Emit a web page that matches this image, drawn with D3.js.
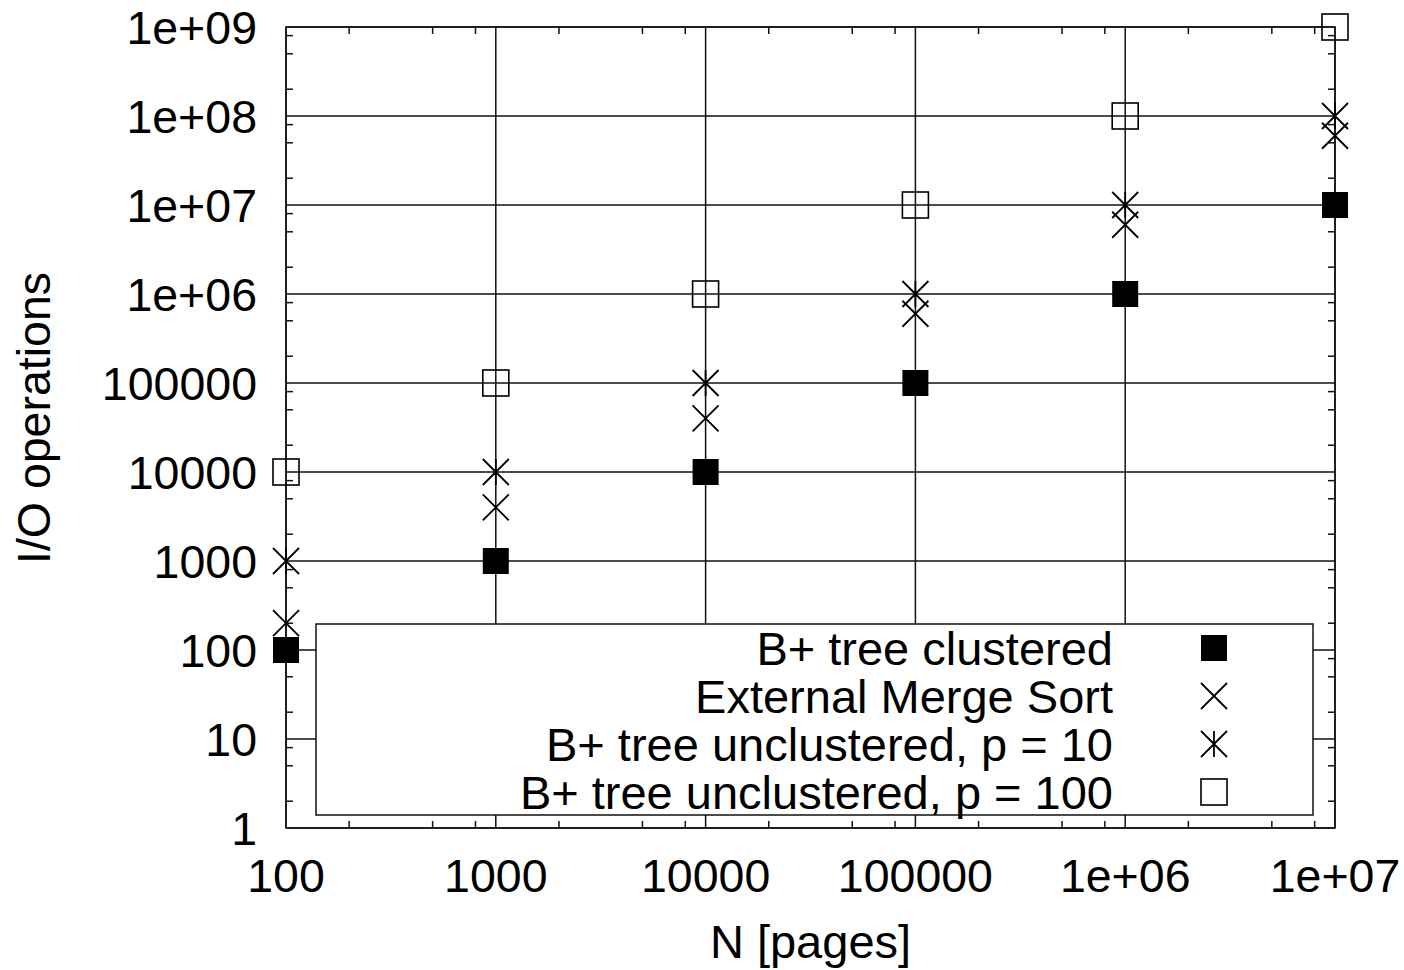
<!DOCTYPE html>
<html>
<head>
<meta charset="utf-8">
<script src="https://cdn.jsdelivr.net/npm/d3@7"></script>
<style>
  body { margin: 0; background: #fff; }
  text { font-family: "Liberation Sans", Arial, sans-serif; fill: #000; }
</style>
</head>
<body>
<div id="chart"></div>
<script>
// data
const pages = [100, 1000, 10000, 100000, 1e6, 1e7];
const clustered = [100, 1000, 1e4, 1e5, 1e6, 1e7];
const mergeSort = [200, 4000, 40000, 600000, 6e6, 6e7];
const unclustered10 = [1000, 1e4, 1e5, 1e6, 1e7, 1e8];
const unclustered100 = [1e4, 1e5, 1e6, 1e7, 1e8, 1e9];

const xTicks = [100, 1000, 10000, 100000, 1e6, 1e7];
const xTickLabels = ["100", "1000", "10000", "100000", "1e+06", "1e+07"];
const yTicks = [1, 10, 100, 1000, 1e4, 1e5, 1e6, 1e7, 1e8, 1e9];
const yTickLabels = ["1", "10", "100", "1000", "10000", "100000", "1e+06", "1e+07", "1e+08", "1e+09"];
const minorSteps = [2, 5, 8];

const seriesNames = ["B+ tree clustered", "External Merge Sort", "B+ tree unclustered, p = 10", "B+ tree unclustered, p = 100"];
const seriesMarks = ["filledSquare", "cross", "star", "openSquare"];
const seriesValues = [clustered, mergeSort, unclustered10, unclustered100];

function main() {
  var W = 1404, H = 970;
  var pLeft = 286, pRight = 1335, pTop = 27, pBottom = 828;
  var fs = 46.5;

  var svg = d3.select("#chart").append("svg")
    .attr("width", W).attr("height", H);
  svg.append("rect").attr("width", W).attr("height", H).attr("fill", "#fff");

  var x = d3.scaleLog().domain([100, 1e7]).range([pLeft, pRight]);
  var y = d3.scaleLog().domain([1, 1e9]).range([pBottom, pTop]);

  // minor tick positions
  var xMinor = [], yMinor = [];
  xTicks.slice(0, -1).forEach(function(t) { minorSteps.forEach(function(m) { xMinor.push(t * m); }); });
  yTicks.slice(0, -1).forEach(function(t) { minorSteps.forEach(function(m) { yMinor.push(t * m); }); });

  var ink = "#111";

  // grid lines
  var grid = svg.append("g").attr("stroke", ink).attr("stroke-width", 1.5);
  grid.selectAll(".gx").data(xTicks).enter().append("line")
    .attr("x1", function(d) { return x(d); }).attr("x2", function(d) { return x(d); })
    .attr("y1", pTop).attr("y2", pBottom);
  grid.selectAll(".gy").data(yTicks).enter().append("line")
    .attr("x1", pLeft).attr("x2", pRight)
    .attr("y1", function(d) { return y(d); }).attr("y2", function(d) { return y(d); });

  // minor ticks on all four sides (inward)
  var tl = 7;
  var ticks = svg.append("g").attr("stroke", ink).attr("stroke-width", 1.5);
  xMinor.forEach(function(v) {
    ticks.append("line").attr("x1", x(v)).attr("x2", x(v)).attr("y1", pBottom).attr("y2", pBottom - tl);
    ticks.append("line").attr("x1", x(v)).attr("x2", x(v)).attr("y1", pTop).attr("y2", pTop + tl);
  });
  yMinor.forEach(function(v) {
    ticks.append("line").attr("y1", y(v)).attr("y2", y(v)).attr("x1", pLeft).attr("x2", pLeft + tl);
    ticks.append("line").attr("y1", y(v)).attr("y2", y(v)).attr("x1", pRight).attr("x2", pRight - tl);
  });

  // frame
  svg.append("rect")
    .attr("x", pLeft).attr("y", pTop)
    .attr("width", pRight - pLeft).attr("height", pBottom - pTop)
    .attr("fill", "none").attr("stroke", ink).attr("stroke-width", 1.5);

  // tick labels
  svg.append("g").selectAll("text").data(xTicks).enter().append("text")
    .attr("x", function(d) { return x(d); })
    .attr("y", 892)
    .attr("text-anchor", "middle")
    .attr("font-size", fs)
    .text(function(d, i) { return xTickLabels[i]; });
  svg.append("g").selectAll("text").data(yTicks).enter().append("text")
    .attr("x", pLeft - 29)
    .attr("y", function(d) { return y(d) + 16.5; })
    .attr("text-anchor", "end")
    .attr("font-size", fs)
    .text(function(d, i) { return yTickLabels[i]; });

  // axis titles
  svg.append("text")
    .attr("x", (pLeft + pRight) / 2).attr("y", 958)
    .attr("text-anchor", "middle").attr("font-size", 47)
    .text("N [pages]");
  svg.append("text")
    .attr("transform", "translate(50,418) rotate(-90)")
    .attr("text-anchor", "middle").attr("font-size", 46.5)
    .text("I/O operations");

  // markers
  var ms = 13;
  function drawMark(g, kind, cx, cy) {
    if (kind === "filledSquare") {
      g.append("rect").attr("x", cx - ms).attr("y", cy - ms).attr("width", 2 * ms).attr("height", 2 * ms)
        .attr("fill", "#000");
    } else if (kind === "openSquare") {
      g.append("rect").attr("x", cx - ms).attr("y", cy - ms).attr("width", 2 * ms).attr("height", 2 * ms)
        .attr("fill", "none").attr("stroke", "#000").attr("stroke-width", 1.6);
    } else {
      var p = "M" + (cx - ms) + "," + (cy - ms) + "L" + (cx + ms) + "," + (cy + ms) +
              "M" + (cx - ms) + "," + (cy + ms) + "L" + (cx + ms) + "," + (cy - ms);
      if (kind === "star") p += "M" + cx + "," + (cy - ms) + "L" + cx + "," + (cy + ms);
      g.append("path").attr("d", p).attr("fill", "none").attr("stroke", "#000").attr("stroke-width", 1.8);
    }
  }

  // legend box
  var lg = { x0: 316, y0: 624, x1: 1313, y1: 815 };
  svg.append("rect")
    .attr("x", lg.x0).attr("y", lg.y0)
    .attr("width", lg.x1 - lg.x0).attr("height", lg.y1 - lg.y0)
    .attr("fill", "#fff").attr("stroke", ink).attr("stroke-width", 1.5);
  var legend = svg.append("g");
  seriesNames.forEach(function(name, i) {
    var cy = 648 + i * 48;
    legend.append("text")
      .attr("x", 1113).attr("y", cy + 16.5)
      .attr("text-anchor", "end").attr("font-size", 47)
      .text(name);
    drawMark(legend, seriesMarks[i], 1214, cy);
  });

  // data points
  var pts = svg.append("g");
  seriesValues.forEach(function(vals, s) {
    vals.forEach(function(v, i) {
      drawMark(pts, seriesMarks[s], x(pages[i]), y(v));
    });
  });
}
main();
</script>
</body>
</html>
